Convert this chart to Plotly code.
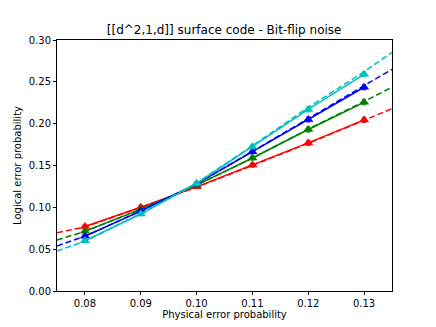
import plotly.graph_objects as go

# physical error rates where the simulations were run
p_phys = [0.08, 0.09, 0.10, 0.11, 0.12, 0.13]

# logical error rates (triangles, solid lines)
red_vals = [0.077, 0.100, 0.1245, 0.1505, 0.177, 0.2045]
green_vals = [0.0715, 0.0975, 0.1265, 0.159, 0.193, 0.2255]
blue_vals = [0.0655, 0.0955, 0.128, 0.1665, 0.205, 0.2435]
cyan_vals = [0.060, 0.092, 0.1285, 0.1725, 0.217, 0.259]
err_vals = [0.002, 0.002, 0.002, 0.0025, 0.003, 0.003]

# fitted curves (dashed), read at these x positions
p_fit = [0.075, 0.08, 0.09, 0.10, 0.11, 0.12, 0.13, 0.135]
red_fit = [0.0697, 0.0765, 0.100, 0.124, 0.150, 0.1765, 0.204, 0.218]
green_fit = [0.061, 0.0712, 0.0978, 0.1265, 0.1588, 0.1935, 0.2265, 0.2435]
blue_fit = [0.0538, 0.0655, 0.0958, 0.128, 0.1668, 0.2065, 0.2455, 0.265]
cyan_fit = [0.0478, 0.0595, 0.0925, 0.129, 0.1735, 0.2195, 0.262, 0.2853]

series = [
    ('#ff0000', red_vals, red_fit),
    ('#008000', green_vals, green_fit),
    ('#0000ff', blue_vals, blue_fit),
    ('#00bfbf', cyan_vals, cyan_fit),
]

fig = go.Figure()
for color, vals, fit in series:
    fig.add_trace(go.Scatter(
        x=p_fit, y=fit, mode='lines',
        line={'color': color, 'width': 1.5, 'dash': '6px,3px'},
        showlegend=False))
    fig.add_trace(go.Scatter(
        x=p_phys, y=vals, mode='lines+markers',
        line={'color': color, 'width': 1.5},
        marker={'symbol': 'triangle-up', 'size': 9, 'color': color},
        error_y={'type': 'data', 'array': err_vals, 'color': color,
                 'thickness': 1, 'width': 2},
        showlegend=False))

axis_style = {
    'showline': True, 'linecolor': 'black', 'linewidth': 1, 'mirror': True,
    'ticks': 'outside', 'ticklen': 3, 'tickcolor': 'black',
    'showgrid': False, 'zeroline': False, 'automargin': False,
    'tickfont': {'family': 'DejaVu Sans', 'size': 10, 'color': 'black'},
}

# the page adds an 8px offset, so the figure is a bit smaller than the window
fig.update_layout(
    width=428, height=319,
    paper_bgcolor='white', plot_bgcolor='white',
    margin={'l': 49, 'r': 44, 't': 32, 'b': 36, 'autoexpand': False},
    title={'text': '[[d^2,1,d]] surface code - Bit-flip noise',
           'x': 0.505, 'xanchor': 'center', 'y': 0.931, 'yanchor': 'middle',
           'font': {'family': 'DejaVu Sans', 'size': 12, 'color': 'black'}},
    xaxis=dict(axis_style, range=[0.075, 0.135],
               tickvals=[0.08, 0.09, 0.10, 0.11, 0.12, 0.13],
               ticktext=['0.08', '0.09', '0.10', '0.11', '0.12', '0.13'],
               title={'text': 'Physical error probability', 'standoff': 2,
                      'font': {'family': 'DejaVu Sans', 'size': 10, 'color': 'black'}}),
    yaxis=dict(axis_style, range=[0, 0.30],
               tickvals=[0, 0.05, 0.10, 0.15, 0.20, 0.25, 0.30],
               ticktext=['0.00', '0.05', '0.10', '0.15', '0.20', '0.25', '0.30'],
               title={'text': 'Logical error probability', 'standoff': 5,
                      'font': {'family': 'DejaVu Sans', 'size': 10, 'color': 'black'}}),
)

fig.write_html("out.html")
